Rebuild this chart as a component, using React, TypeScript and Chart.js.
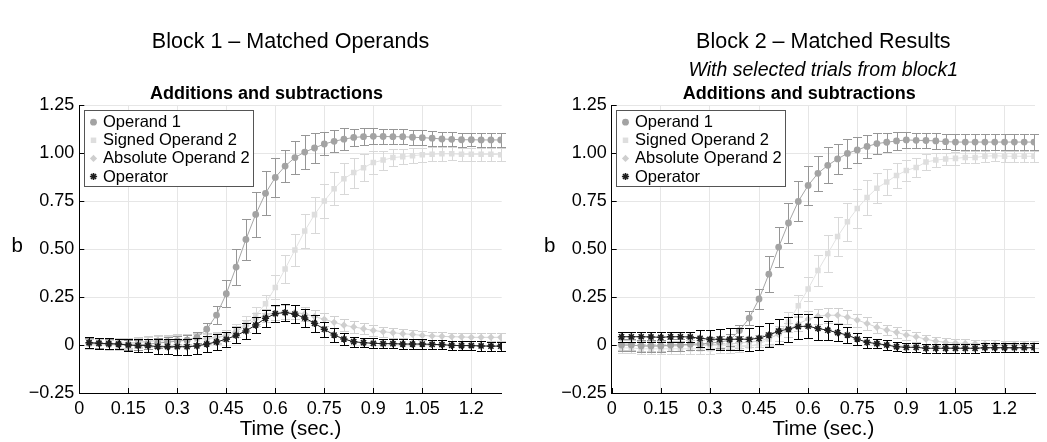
import React, { useEffect, useRef } from 'react';
import { Chart, registerables } from 'chart.js';

Chart.register(...registerables);

const TIME = [0.03, 0.06, 0.09, 0.12, 0.15, 0.18, 0.21, 0.24, 0.27, 0.30, 0.33, 0.36, 0.39, 0.42, 0.45, 0.48, 0.51, 0.54, 0.57, 0.60, 0.63, 0.66, 0.69, 0.72, 0.75, 0.78, 0.81, 0.84, 0.87, 0.90, 0.93, 0.96, 0.99, 1.02, 1.05, 1.08, 1.11, 1.14, 1.17, 1.20, 1.23, 1.26, 1.29];

const X_TICKS = [0, 0.15, 0.3, 0.45, 0.6, 0.75, 0.9, 1.05, 1.2];
const X_TICK_LABELS = ['0', '0.15', '0.3', '0.45', '0.6', '0.75', '0.9', '1.05', '1.2'];
const Y_TICKS = [-0.25, 0, 0.25, 0.5, 0.75, 1, 1.25];
const Y_TICK_LABELS = ['\u22120.25', '0', '0.25', '0.50', '0.75', '1.00', '1.25'];

const SERIES_NAMES = ['Operand 1', 'Signed Operand 2', 'Absolute Operand 2', 'Operator'];
const PANEL_TITLES = ['Block 1 \u2013 Matched Operands', 'Block 2 \u2013 Matched Results'];
const PANEL_SUBTITLES = ['', 'With selected trials from block1'];
const AXES_TITLE = 'Additions and subtractions';
const X_LABEL = 'Time (sec.)';
const Y_LABEL = 'b';

// Block 1
const B1_OP1 = [0.010, 0.010, 0.005, 0.005, 0.000, 0.000, 0.005, 0.010, 0.015, 0.020, 0.025, 0.040, 0.082, 0.156, 0.267, 0.406, 0.550, 0.680, 0.790, 0.873, 0.932, 0.976, 1.005, 1.026, 1.047, 1.061, 1.072, 1.081, 1.085, 1.087, 1.086, 1.085, 1.085, 1.082, 1.080, 1.077, 1.073, 1.071, 1.069, 1.069, 1.068, 1.068, 1.068];
const B1_OP1_ERR = [0.025, 0.025, 0.025, 0.025, 0.025, 0.025, 0.025, 0.025, 0.025, 0.025, 0.028, 0.030, 0.035, 0.045, 0.070, 0.095, 0.108, 0.115, 0.115, 0.100, 0.085, 0.087, 0.088, 0.080, 0.060, 0.057, 0.057, 0.045, 0.043, 0.042, 0.040, 0.040, 0.040, 0.040, 0.038, 0.038, 0.037, 0.036, 0.036, 0.035, 0.035, 0.035, 0.035];
const B1_SIG = [0.005, 0.005, 0.000, 0.000, 0.005, 0.010, 0.015, 0.020, 0.020, 0.025, 0.025, 0.030, 0.030, 0.035, 0.050, 0.075, 0.110, 0.155, 0.215, 0.300, 0.396, 0.495, 0.594, 0.679, 0.750, 0.814, 0.866, 0.898, 0.923, 0.950, 0.963, 0.976, 0.981, 0.986, 0.991, 0.993, 0.996, 0.996, 0.993, 0.993, 0.993, 0.993, 0.991];
const B1_SIG_ERR = [0.025, 0.025, 0.025, 0.025, 0.025, 0.025, 0.025, 0.025, 0.025, 0.025, 0.025, 0.025, 0.025, 0.028, 0.030, 0.035, 0.040, 0.045, 0.048, 0.062, 0.073, 0.082, 0.090, 0.094, 0.090, 0.085, 0.080, 0.078, 0.070, 0.060, 0.050, 0.045, 0.040, 0.038, 0.037, 0.036, 0.036, 0.035, 0.035, 0.035, 0.035, 0.035, 0.035];
const B1_ABS = [0.005, 0.005, 0.005, 0.010, 0.010, 0.015, 0.020, 0.025, 0.025, 0.030, 0.030, 0.035, 0.035, 0.040, 0.050, 0.070, 0.100, 0.135, 0.155, 0.168, 0.172, 0.170, 0.162, 0.148, 0.134, 0.118, 0.103, 0.094, 0.085, 0.076, 0.069, 0.064, 0.059, 0.055, 0.050, 0.047, 0.045, 0.043, 0.042, 0.040, 0.040, 0.040, 0.040];
const B1_ABS_ERR = [0.025, 0.025, 0.025, 0.025, 0.025, 0.025, 0.025, 0.025, 0.025, 0.025, 0.025, 0.025, 0.025, 0.028, 0.030, 0.030, 0.032, 0.034, 0.035, 0.036, 0.036, 0.036, 0.035, 0.035, 0.034, 0.032, 0.030, 0.030, 0.028, 0.027, 0.026, 0.025, 0.024, 0.023, 0.022, 0.022, 0.021, 0.020, 0.020, 0.020, 0.020, 0.020, 0.020];
const B1_OPR = [0.012, 0.009, 0.007, 0.005, 0.000, -0.003, -0.003, -0.009, -0.009, -0.009, -0.009, -0.005, 0.005, 0.016, 0.030, 0.050, 0.073, 0.104, 0.139, 0.163, 0.169, 0.161, 0.141, 0.113, 0.082, 0.052, 0.031, 0.017, 0.012, 0.009, 0.007, 0.007, 0.005, 0.005, 0.005, 0.003, 0.002, -0.002, -0.003, -0.003, -0.005, -0.006, -0.006];
const B1_OPR_ERR = [0.028, 0.028, 0.028, 0.028, 0.030, 0.032, 0.035, 0.038, 0.040, 0.042, 0.042, 0.040, 0.040, 0.040, 0.040, 0.042, 0.042, 0.042, 0.044, 0.045, 0.045, 0.045, 0.045, 0.043, 0.040, 0.035, 0.030, 0.027, 0.025, 0.025, 0.025, 0.025, 0.025, 0.025, 0.025, 0.025, 0.025, 0.024, 0.024, 0.024, 0.024, 0.024, 0.024];

// Block 2
const B2_OP1 = [0.000, 0.000, -0.005, -0.005, -0.005, 0.000, 0.000, 0.005, 0.005, 0.010, 0.015, 0.025, 0.075, 0.140, 0.240, 0.369, 0.510, 0.636, 0.748, 0.831, 0.894, 0.936, 0.969, 0.998, 1.016, 1.034, 1.049, 1.056, 1.063, 1.068, 1.066, 1.065, 1.063, 1.059, 1.057, 1.057, 1.057, 1.057, 1.057, 1.057, 1.057, 1.057, 1.057];
const B2_OP1_ERR = [0.030, 0.030, 0.030, 0.030, 0.030, 0.030, 0.030, 0.030, 0.030, 0.030, 0.030, 0.030, 0.030, 0.035, 0.050, 0.095, 0.104, 0.104, 0.104, 0.100, 0.092, 0.094, 0.080, 0.076, 0.068, 0.060, 0.055, 0.050, 0.045, 0.042, 0.040, 0.040, 0.040, 0.040, 0.040, 0.040, 0.040, 0.040, 0.040, 0.040, 0.040, 0.040, 0.040];
const B2_SIG = [-0.015, -0.015, -0.020, -0.020, -0.020, -0.020, -0.020, -0.020, -0.020, -0.020, -0.015, -0.015, -0.010, -0.005, 0.005, 0.030, 0.060, 0.120, 0.205, 0.292, 0.388, 0.476, 0.565, 0.642, 0.711, 0.768, 0.817, 0.849, 0.883, 0.909, 0.925, 0.953, 0.963, 0.969, 0.972, 0.977, 0.977, 0.983, 0.986, 0.983, 0.983, 0.983, 0.983];
const B2_SIG_ERR = [0.025, 0.025, 0.025, 0.025, 0.025, 0.025, 0.025, 0.025, 0.025, 0.025, 0.025, 0.025, 0.025, 0.028, 0.030, 0.035, 0.040, 0.050, 0.055, 0.061, 0.080, 0.095, 0.100, 0.100, 0.100, 0.090, 0.078, 0.070, 0.065, 0.057, 0.050, 0.040, 0.035, 0.032, 0.032, 0.031, 0.031, 0.030, 0.030, 0.030, 0.030, 0.030, 0.030];
const B2_ABS = [0.000, 0.000, -0.005, -0.005, -0.005, -0.005, -0.005, 0.000, 0.000, 0.000, 0.005, 0.005, 0.010, 0.015, 0.020, 0.035, 0.055, 0.080, 0.110, 0.135, 0.150, 0.155, 0.155, 0.145, 0.130, 0.112, 0.092, 0.078, 0.066, 0.052, 0.043, 0.030, 0.020, 0.014, 0.010, 0.008, 0.007, 0.005, 0.004, 0.003, 0.003, 0.002, 0.002];
const B2_ABS_ERR = [0.025, 0.025, 0.025, 0.025, 0.025, 0.025, 0.025, 0.025, 0.025, 0.025, 0.025, 0.025, 0.025, 0.028, 0.030, 0.032, 0.034, 0.036, 0.038, 0.040, 0.040, 0.040, 0.038, 0.036, 0.034, 0.032, 0.030, 0.028, 0.027, 0.026, 0.025, 0.024, 0.023, 0.022, 0.022, 0.021, 0.021, 0.020, 0.020, 0.020, 0.020, 0.020, 0.020];
const B2_OPR = [0.043, 0.043, 0.043, 0.042, 0.040, 0.043, 0.043, 0.042, 0.035, 0.030, 0.030, 0.030, 0.030, 0.030, 0.035, 0.052, 0.072, 0.083, 0.096, 0.098, 0.086, 0.077, 0.064, 0.052, 0.031, 0.014, 0.007, 0.000, -0.009, -0.012, -0.012, -0.017, -0.017, -0.017, -0.017, -0.017, -0.017, -0.014, -0.014, -0.014, -0.014, -0.014, -0.014];
const B2_OPR_ERR = [0.026, 0.026, 0.026, 0.026, 0.026, 0.026, 0.026, 0.026, 0.045, 0.050, 0.055, 0.057, 0.057, 0.060, 0.062, 0.065, 0.065, 0.065, 0.065, 0.062, 0.060, 0.050, 0.045, 0.040, 0.030, 0.028, 0.025, 0.024, 0.024, 0.024, 0.024, 0.024, 0.024, 0.024, 0.024, 0.024, 0.024, 0.024, 0.024, 0.024, 0.024, 0.024, 0.024];

const FONT = "'Liberation Sans', Arial, Helvetica, sans-serif";

const STYLES = [
  { pointStyle: 'circle', color: '#a3a3a3', line: '#a6a6a6', err: '#969696', radius: 3.4, order: 1 },
  { pointStyle: 'rect', color: '#dedede', line: '#e2e2e2', err: '#d8d8d8', radius: 3.9, order: 3 },
  { pointStyle: 'rectRot', color: '#cecece', line: '#d4d4d4', err: '#d0d0d0', radius: 3.6, order: 2 },
  { pointStyle: 'star', color: '#1e1e1e', line: '#1e1e1e', err: '#000000', radius: 3.6, order: 0 },
];

const PANELS = [
  { left: 0, width: 523, yWidth: 79.3, padRight: 21.3, title: PANEL_TITLES[0], subtitle: PANEL_SUBTITLES[0],
    series: [B1_OP1, B1_SIG, B1_ABS, B1_OPR], errors: [B1_OP1_ERR, B1_SIG_ERR, B1_ABS_ERR, B1_OPR_ERR] },
  { left: 523, width: 524, yWidth: 88.7, padRight: 12, title: PANEL_TITLES[1], subtitle: PANEL_SUBTITLES[1],
    series: [B2_OP1, B2_SIG, B2_ABS, B2_OPR], errors: [B2_OP1_ERR, B2_SIG_ERR, B2_ABS_ERR, B2_OPR_ERR] },
];

function drawMarker(ctx: CanvasRenderingContext2D, style: string, x: number, y: number, r: number, color: string) {
  ctx.save();
  ctx.fillStyle = color;
  ctx.strokeStyle = color;
  ctx.beginPath();
  if (style === 'circle') {
    ctx.arc(x, y, r, 0, Math.PI * 2);
    ctx.fill();
  } else if (style === 'rect') {
    const s = r * Math.SQRT1_2;
    ctx.rect(x - s, y - s, 2 * s, 2 * s);
    ctx.fill();
  } else if (style === 'rectRot') {
    ctx.moveTo(x, y - r);
    ctx.lineTo(x + r, y);
    ctx.lineTo(x, y + r);
    ctx.lineTo(x - r, y);
    ctx.closePath();
    ctx.fill();
  } else {
    ctx.lineWidth = 1.6;
    for (let k = 0; k < 4; k++) {
      const a = (k * Math.PI) / 4;
      ctx.moveTo(x - r * Math.cos(a), y - r * Math.sin(a));
      ctx.lineTo(x + r * Math.cos(a), y + r * Math.sin(a));
    }
    ctx.stroke();
  }
  ctx.restore();
}

const errorBarPlugin = {
  id: 'errorBars',
  beforeDatasetDraw(chart: any, args: any) {
    const ds = chart.data.datasets[args.index];
    const errs: number[] = ds.errors;
    if (!errs) return;
    const ys = chart.scales.y;
    const ctx: CanvasRenderingContext2D = chart.ctx;
    ctx.save();
    ctx.strokeStyle = ds.errColor;
    ctx.lineWidth = 1;
    ctx.beginPath();
    args.meta.data.forEach((pt: any, j: number) => {
      const v = ds.data[j].y;
      const e = errs[j];
      const x = Math.round(pt.x) + 0.5;
      const y1 = Math.round(ys.getPixelForValue(v + e)) + 0.5;
      const y2 = Math.round(ys.getPixelForValue(v - e)) + 0.5;
      ctx.moveTo(x, y1);
      ctx.lineTo(x, y2);
      ctx.moveTo(x - 4.5, y1);
      ctx.lineTo(x + 4.5, y1);
      ctx.moveTo(x - 4.5, y2);
      ctx.lineTo(x + 4.5, y2);
    });
    ctx.stroke();
    ctx.restore();
  },
};

const decorPlugin = {
  id: 'decor',
  afterDraw(chart: any) {
    const ctx: CanvasRenderingContext2D = chart.ctx;
    const area = chart.chartArea;
    const xs = chart.scales.x;
    const ys = chart.scales.y;
    const panel = chart.options.plugins.decor;
    const cx = (area.left + area.right) / 2;
    ctx.save();
    // inward tick marks
    ctx.strokeStyle = '#000';
    ctx.lineWidth = 1;
    ctx.beginPath();
    X_TICKS.forEach((v) => {
      const x = Math.round(xs.getPixelForValue(v)) + 0.5;
      ctx.moveTo(x, area.bottom);
      ctx.lineTo(x, area.bottom - 5);
    });
    Y_TICKS.forEach((v) => {
      const y = Math.round(ys.getPixelForValue(v)) + 0.5;
      ctx.moveTo(area.left, y);
      ctx.lineTo(area.left + 5, y);
    });
    ctx.stroke();

    ctx.fillStyle = '#000';
    ctx.textAlign = 'center';
    ctx.textBaseline = 'middle';
    ctx.font = `21.5px ${FONT}`;
    ctx.fillText(panel.title, cx, 42);
    if (panel.subtitle) {
      ctx.font = `italic 19.5px ${FONT}`;
      ctx.fillText(panel.subtitle, cx, 71);
    }
    ctx.font = `bold 18px ${FONT}`;
    ctx.fillText(AXES_TITLE, cx - 24, 94);
    ctx.font = `20.5px ${FONT}`;
    ctx.fillText(X_LABEL, cx, 429);
    ctx.fillText(Y_LABEL, area.left - 62, 246);

    // legend
    const bx = Math.round(area.left + 4.7) + 0.5;
    const by = Math.round(area.top + 5) + 0.5;
    const bw = 169;
    const bh = 76;
    ctx.fillStyle = '#ffffff';
    ctx.fillRect(bx, by, bw, bh);
    ctx.strokeStyle = '#555';
    ctx.strokeRect(bx, by, bw, bh);
    ctx.font = `16.5px ${FONT}`;
    ctx.textAlign = 'left';
    SERIES_NAMES.forEach((name, i) => {
      const ry = by + 11.7 + i * 18.1;
      drawMarker(ctx, STYLES[i].pointStyle, bx + 9, ry, STYLES[i].radius, STYLES[i].color);
      ctx.fillStyle = '#000';
      ctx.fillText(name, bx + 18.5, ry + 0.5);
    });
    ctx.restore();
  },
};

function buildChart(canvas: HTMLCanvasElement, panel: any) {
  const datasets = SERIES_NAMES.map((name, i) => ({
    label: name,
    data: TIME.map((t, j) => ({ x: t, y: panel.series[i][j] })),
    errors: panel.errors[i],
    errColor: STYLES[i].err,
    order: STYLES[i].order,
    borderColor: STYLES[i].line,
    backgroundColor: STYLES[i].color,
    pointBackgroundColor: STYLES[i].color,
    pointBorderColor: STYLES[i].color,
    pointStyle: STYLES[i].pointStyle,
    pointRadius: STYLES[i].radius,
    pointBorderWidth: i === 3 ? 1.6 : 0,
    borderWidth: 1,
    tension: 0,
    fill: false,
  }));

  return new Chart(canvas, {
    type: 'line',
    data: { datasets } as any,
    plugins: [errorBarPlugin, decorPlugin],
    options: {
      animation: false,
      responsive: false,
      devicePixelRatio: 1,
      layout: { padding: { top: 105, right: panel.padRight, left: 0, bottom: 0 } },
      plugins: {
        legend: { display: false },
        title: { display: false },
        tooltip: { enabled: false },
        decor: { title: panel.title, subtitle: panel.subtitle },
      } as any,
      scales: {
        x: {
          type: 'linear',
          min: 0,
          max: 1.293,
          afterBuildTicks: (s: any) => { s.ticks = X_TICKS.map((v) => ({ value: v })); },
          afterFit: (s: any) => { s.height = 49; s.paddingLeft = 0; s.paddingRight = 0; },
          ticks: {
            autoSkip: false,
            maxRotation: 0,
            padding: 5,
            color: '#000',
            font: { family: FONT, size: 18 },
            callback: (v: any) => {
              const k = X_TICKS.findIndex((t) => Math.abs(t - v) < 1e-6);
              return k >= 0 ? X_TICK_LABELS[k] : '';
            },
          },
          grid: { color: '#e6e6e6', drawTicks: false },
          border: { display: true, color: '#000', width: 1 },
        },
        y: {
          type: 'linear',
          min: -0.25,
          max: 1.25,
          afterBuildTicks: (s: any) => { s.ticks = Y_TICKS.map((v) => ({ value: v })); },
          afterFit: (s: any) => { s.width = panel.yWidth; s.paddingTop = 0; s.paddingBottom = 0; },
          ticks: {
            padding: 5,
            color: '#000',
            font: { family: FONT, size: 18 },
            callback: (v: any) => {
              const k = Y_TICKS.findIndex((t) => Math.abs(t - v) < 1e-6);
              return k >= 0 ? Y_TICK_LABELS[k] : '';
            },
          },
          grid: { color: '#e6e6e6', drawTicks: false },
          border: { display: true, color: '#000', width: 1 },
        },
      },
    } as any,
  });
}

function Panel({ panel }: { panel: any }) {
  const ref = useRef<HTMLCanvasElement | null>(null);
  useEffect(() => {
    if (!ref.current) return;
    const chart = buildChart(ref.current, panel);
    return () => chart.destroy();
  }, [panel]);
  return (
    <canvas
      ref={ref}
      width={panel.width}
      height={442}
      style={{ position: 'absolute', left: panel.left, top: 0, width: panel.width, height: 442 }}
    />
  );
}

export default function App() {
  return (
    <div style={{ position: 'absolute', left: 0, top: 0, width: 1047, height: 442, background: '#fff', overflow: 'hidden' }}>
      {PANELS.map((p, i) => (
        <Panel key={i} panel={p} />
      ))}
    </div>
  );
}
